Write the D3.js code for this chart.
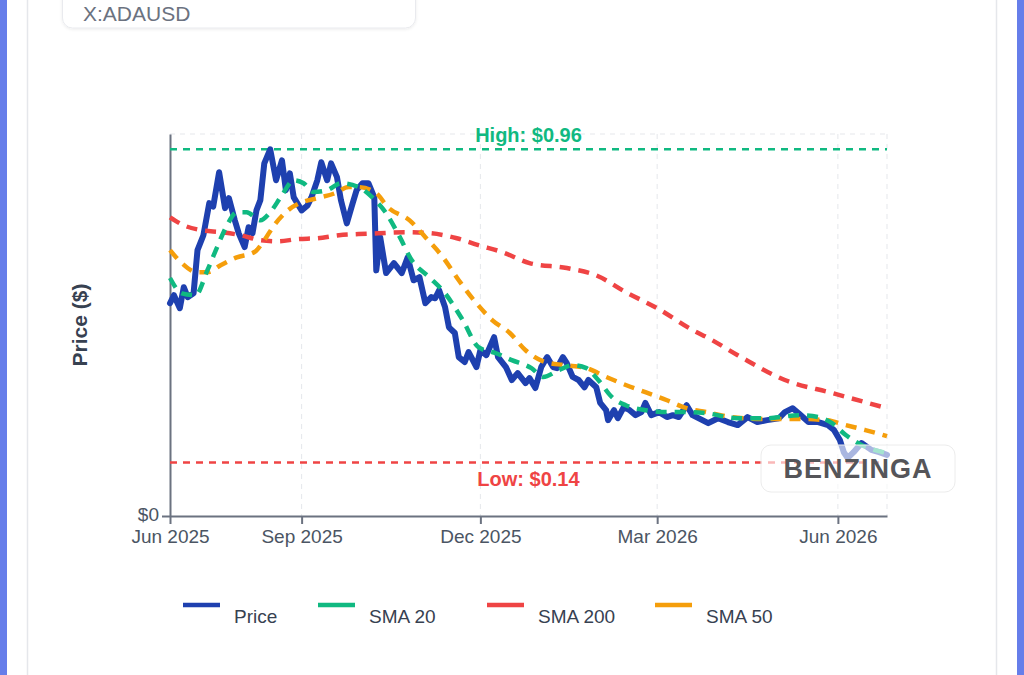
<!DOCTYPE html>
<html>
<head>
<meta charset="utf-8">
<script src="https://cdn.jsdelivr.net/npm/d3@7"></script>
<style>
  body { margin: 0; background: #ffffff; }
  svg { display: block; font-family: "Liberation Sans", Arial, Helvetica, sans-serif; }
</style>
</head>
<body>
<svg id="chart" width="1024" height="675"></svg>
<script>
// ---- data ----
var symbol = "X:ADAUSD";

var priceData = [
  ["2025-06-26",0.557],["2025-06-28",0.578],["2025-07-01",0.544],["2025-07-03",0.599],["2025-07-05",0.573],
  ["2025-07-08",0.583],["2025-07-10",0.696],["2025-07-13",0.735],["2025-07-16",0.819],["2025-07-18",0.810],
  ["2025-07-21",0.900],["2025-07-24",0.806],["2025-07-26",0.832],["2025-07-29",0.774],["2025-07-31",0.740],
  ["2025-08-03",0.704],["2025-08-05",0.756],["2025-08-07",0.740],["2025-08-09",0.800],["2025-08-11",0.827],
  ["2025-08-13",0.923],["2025-08-16",0.960],["2025-08-19",0.879],["2025-08-22",0.931],["2025-08-24",0.853],
  ["2025-08-26",0.897],["2025-08-28",0.834],["2025-09-01",0.800],["2025-09-04",0.813],["2025-09-06",0.834],
  ["2025-09-09",0.879],["2025-09-11",0.926],["2025-09-14",0.879],["2025-09-16",0.923],["2025-09-19",0.887],
  ["2025-09-21",0.827],["2025-09-24",0.766],["2025-09-27",0.819],["2025-09-29",0.853],["2025-10-02",0.871],
  ["2025-10-05",0.871],["2025-10-08",0.834],["2025-10-09",0.643],["2025-10-11",0.730],["2025-10-14",0.636],
  ["2025-10-18",0.662],["2025-10-22",0.636],["2025-10-25",0.677],["2025-10-28",0.617],["2025-10-31",0.625],
  ["2025-11-03",0.557],["2025-11-06",0.573],["2025-11-08",0.570],["2025-11-10",0.591],["2025-11-13",0.547],
  ["2025-11-15",0.494],["2025-11-18",0.479],["2025-11-20",0.416],["2025-11-23",0.403],["2025-11-25",0.429],
  ["2025-11-29",0.390],["2025-12-01",0.434],["2025-12-04",0.421],["2025-12-08",0.468],["2025-12-10",0.416],
  ["2025-12-14",0.390],["2025-12-17",0.356],["2025-12-20",0.374],["2025-12-24",0.348],["2025-12-26",0.361],
  ["2025-12-29",0.335],["2026-01-01",0.390],["2026-01-04",0.416],["2026-01-07",0.390],["2026-01-09",0.387],
  ["2026-01-12",0.416],["2026-01-14",0.400],["2026-01-17",0.364],["2026-01-20",0.356],["2026-01-23",0.337],
  ["2026-01-25",0.356],["2026-01-29",0.337],["2026-01-31",0.296],["2026-02-03",0.277],["2026-02-04",0.251],
  ["2026-02-07",0.277],["2026-02-09",0.256],["2026-02-12",0.285],["2026-02-15",0.277],["2026-02-18",0.264],
  ["2026-02-21",0.272],["2026-02-23",0.296],["2026-02-26",0.264],["2026-03-02",0.272],["2026-03-06",0.259],
  ["2026-03-09",0.264],["2026-03-12",0.259],["2026-03-16",0.290],["2026-03-19",0.264],["2026-03-22",0.256],
  ["2026-03-27",0.243],["2026-04-01",0.256],["2026-04-06",0.246],["2026-04-11",0.238],["2026-04-16",0.259],
  ["2026-04-21",0.246],["2026-04-26",0.251],["2026-05-02",0.256],["2026-05-05",0.272],["2026-05-09",0.282],
  ["2026-05-12",0.269],["2026-05-17",0.246],["2026-05-22",0.246],["2026-05-27",0.238],["2026-05-30",0.225],
  ["2026-06-02",0.199],["2026-06-04",0.167],["2026-06-06",0.152],["2026-06-09",0.167],["2026-06-13",0.191],
  ["2026-06-18",0.173],["2026-06-22",0.167],["2026-06-26",0.160]
];

var sma20Data = [
  ["2025-06-26",0.623],["2025-07-02",0.583],["2025-07-09",0.578],["2025-07-15",0.643],["2025-07-20",0.704],
  ["2025-07-25",0.761],["2025-07-30",0.795],["2025-08-04",0.795],["2025-08-11",0.774],["2025-08-16",0.795],
  ["2025-08-22",0.840],["2025-08-28",0.879],["2025-09-02",0.871],["2025-09-07",0.848],["2025-09-14",0.853],
  ["2025-09-21",0.871],["2025-09-30",0.861],["2025-10-07",0.834],["2025-10-14",0.793],["2025-10-21",0.730],
  ["2025-10-27",0.670],["2025-11-05",0.625],["2025-11-13",0.583],["2025-11-22",0.513],["2025-11-30",0.442],
  ["2025-12-09",0.426],["2025-12-17",0.408],["2025-12-27",0.387],["2026-01-02",0.364],["2026-01-10",0.382],
  ["2026-01-17",0.395],["2026-01-24",0.387],["2026-01-30",0.356],["2026-02-06",0.311],["2026-02-13",0.290],
  ["2026-02-23",0.277],["2026-03-06",0.272],["2026-03-16",0.272],["2026-03-26",0.269],["2026-04-11",0.256],
  ["2026-04-26",0.256],["2026-05-12",0.264],["2026-05-22",0.259],["2026-05-29",0.243],["2026-06-05",0.212],
  ["2026-06-13",0.186],["2026-06-24",0.167],["2026-06-26",0.165]
];

var sma200Data = [
  ["2025-06-26",0.782],["2025-07-03",0.761],["2025-07-12",0.748],["2025-07-22",0.743],["2025-08-01",0.735],
  ["2025-08-11",0.722],["2025-08-20",0.719],["2025-08-30",0.725],["2025-09-09",0.727],["2025-09-20",0.735],
  ["2025-09-30",0.738],["2025-10-10",0.740],["2025-10-24",0.743],["2025-11-06",0.740],["2025-11-19",0.727],
  ["2025-11-30",0.709],["2025-12-12",0.691],["2025-12-26",0.662],["2026-01-14",0.649],["2026-01-29",0.630],
  ["2026-02-13",0.586],["2026-03-01",0.544],["2026-03-19",0.487],["2026-03-27",0.466],["2026-04-11",0.421],
  ["2026-05-05",0.356],["2026-05-29",0.322],["2026-06-26",0.282]
];

var sma50Data = [
  ["2025-06-26",0.696],["2025-07-02",0.662],["2025-07-10",0.638],["2025-07-15",0.638],["2025-07-22",0.657],
  ["2025-07-30",0.677],["2025-08-08",0.691],["2025-08-13",0.722],["2025-08-18",0.761],["2025-08-25",0.800],
  ["2025-09-01",0.821],["2025-09-09",0.832],["2025-09-18",0.845],["2025-09-25",0.861],["2025-09-30",0.861],
  ["2025-10-09",0.845],["2025-10-15",0.808],["2025-10-26",0.774],["2025-11-03",0.730],["2025-11-12",0.677],
  ["2025-11-20",0.617],["2025-11-29",0.557],["2025-12-07",0.513],["2025-12-16",0.479],["2025-12-24",0.434],
  ["2026-01-03",0.403],["2026-01-13",0.395],["2026-01-24",0.387],["2026-02-03",0.364],["2026-02-13",0.343],
  ["2026-02-23",0.324],["2026-03-06",0.303],["2026-03-16",0.282],["2026-03-26",0.272],["2026-04-08",0.259],
  ["2026-04-25",0.254],["2026-05-12",0.254],["2026-05-26",0.251],["2026-06-05",0.238],["2026-06-15",0.225],
  ["2026-06-26",0.209]
];

var highValue = 0.96;
var lowValue = 0.14;

var xDomain = ["2025-06-26", "2026-06-26"];
var tickDates = ["2025-06-26", "2025-09-01", "2025-12-01", "2026-03-01", "2026-06-01"];
var tickLabels = ["Jun 2025", "Sep 2025", "Dec 2025", "Mar 2026", "Jun 2026"];

var legendNames = ["Price", "SMA 20", "SMA 200", "SMA 50"];

// ---- styles / layout ----
var colors = { "Price": "#1e40af", "SMA 20": "#10b981", "SMA 200": "#ef4444", "SMA 50": "#f59e0b" };
var legendX = [183, 318, 487, 655];
var margin = { left: 170, right: 887, top: 134, bottom: 516 };

var parse = d3.timeParse("%Y-%m-%d");
var svg = d3.select("#chart");

// page frame
svg.append("rect").attr("x", 0).attr("y", 0).attr("width", 7).attr("height", 675).attr("fill", "#667eea");
svg.append("rect").attr("x", 1017).attr("y", 0).attr("width", 7).attr("height", 675).attr("fill", "#667eea");
svg.append("rect").attr("x", 27.5).attr("y", -20).attr("width", 969).attr("height", 720)
    .attr("rx", 10).attr("fill", "#ffffff").attr("stroke", "#e5e7eb").attr("stroke-width", 1.5);

// header box
var defs = svg.append("defs");
var sh = defs.append("filter").attr("id", "soft").attr("x", "-10%").attr("y", "-50%").attr("width", "120%").attr("height", "200%");
sh.append("feDropShadow").attr("dx", 0).attr("dy", 1).attr("stdDeviation", 1.5).attr("flood-color", "#000").attr("flood-opacity", 0.08);

svg.append("rect").attr("x", 62.5).attr("y", -20).attr("width", 353).attr("height", 48)
    .attr("rx", 10).attr("fill", "#ffffff").attr("stroke", "#e9eaee").attr("filter", "url(#soft)");
svg.append("text").attr("x", 83).attr("y", 21).attr("font-size", 21).attr("fill", "#6b7280").text(symbol);

// scales
var x = d3.scaleTime().domain(xDomain.map(parse)).range([margin.left, margin.right]);
var y = d3.scaleLinear().domain([0, 1]).range([margin.bottom, margin.top]);

// grid
var grid = svg.append("g").attr("stroke", "#e5e7eb").attr("stroke-width", 1).attr("stroke-dasharray", "5,5");
tickDates.slice(1).map(parse).concat([x.domain()[1]]).forEach(function(d) {
  grid.append("line").attr("x1", x(d)).attr("x2", x(d)).attr("y1", margin.top).attr("y2", margin.bottom);
});
grid.append("line").attr("x1", margin.left).attr("x2", margin.right).attr("y1", y(1)).attr("y2", y(1));

// axes
var xAxis = d3.axisBottom(x)
    .tickValues(tickDates.map(parse))
    .tickFormat(function(d, i) { return tickLabels[i]; })
    .tickSize(8).tickSizeOuter(0).tickPadding(6);
var gx = svg.append("g").attr("transform", "translate(0," + margin.bottom + ")").call(xAxis);
gx.select(".domain").attr("stroke", "#6b7280").attr("stroke-width", 2);
gx.selectAll(".tick line").attr("stroke", "#6b7280").attr("stroke-width", 2);
gx.selectAll(".tick text").attr("fill", "#4b5563").attr("font-size", 19)
    .attr("font-family", "Liberation Sans, Arial, sans-serif");

var yAxis = d3.axisLeft(y).tickValues([0]).tickFormat(d3.format("$")).tickSize(8).tickSizeOuter(0).tickPadding(3);
var gy = svg.append("g").attr("transform", "translate(" + margin.left + ",0)").call(yAxis);
gy.select(".domain").attr("stroke", "#6b7280").attr("stroke-width", 2);
gy.selectAll(".tick line").attr("stroke", "#6b7280").attr("stroke-width", 2);
gy.selectAll(".tick text").attr("fill", "#4b5563").attr("font-size", 19).attr("dy", "0.25em")
    .attr("font-family", "Liberation Sans, Arial, sans-serif");

svg.append("text")
    .attr("transform", "translate(87,325) rotate(-90)")
    .attr("text-anchor", "middle").attr("font-size", 21).attr("font-weight", "bold")
    .attr("fill", "#374151").text("Price ($)");

// high / low reference lines
svg.append("line").attr("x1", margin.left).attr("x2", margin.right)
    .attr("y1", y(highValue)).attr("y2", y(highValue))
    .attr("stroke", "#10b981").attr("stroke-width", 2.5).attr("stroke-dasharray", "7,6");
svg.append("text").attr("x", (margin.left + margin.right) / 2).attr("y", y(highValue) - 7)
    .attr("text-anchor", "middle").attr("font-size", 20).attr("font-weight", "bold")
    .attr("fill", "#10b981").text("High: $" + highValue.toFixed(2));

svg.append("line").attr("x1", margin.left).attr("x2", margin.right)
    .attr("y1", y(lowValue)).attr("y2", y(lowValue))
    .attr("stroke", "#ef4444").attr("stroke-width", 2.5).attr("stroke-dasharray", "7,6");
svg.append("text").attr("x", (margin.left + margin.right) / 2).attr("y", y(lowValue) + 23)
    .attr("text-anchor", "middle").attr("font-size", 20).attr("font-weight", "bold")
    .attr("fill", "#ef4444").text("Low: $" + lowValue.toFixed(2));

// series
var lineLinear = d3.line().x(function(d) { return x(parse(d[0])); }).y(function(d) { return y(d[1]); });
var lineSmooth = d3.line().curve(d3.curveMonotoneX)
    .x(function(d) { return x(parse(d[0])); }).y(function(d) { return y(d[1]); });

var smaSeries = [["SMA 200", sma200Data], ["SMA 50", sma50Data], ["SMA 20", sma20Data]];

svg.append("path").datum(priceData).attr("d", lineLinear)
    .attr("fill", "none").attr("stroke", colors["Price"]).attr("stroke-width", 6)
    .attr("stroke-linejoin", "round").attr("stroke-linecap", "round");

smaSeries.forEach(function(s) {
  svg.append("path").datum(s[1]).attr("d", lineSmooth)
      .attr("fill", "none").attr("stroke", colors[s[0]]).attr("stroke-width", 4.5)
      .attr("stroke-dasharray", "11,8").attr("stroke-linecap", "butt");
});

// watermark
svg.append("rect").attr("x", 761).attr("y", 445).attr("width", 194).attr("height", 47).attr("rx", 10)
    .attr("fill", "#ffffff").attr("fill-opacity", 0.62).attr("stroke", "#ececec").attr("stroke-width", 1);
svg.append("text").attr("x", 858).attr("y", 478).attr("text-anchor", "middle")
    .attr("font-size", 27).attr("font-weight", "bold").attr("letter-spacing", 1)
    .attr("fill", "#555559").text("BENZINGA");

// legend
var legend = svg.append("g");
legendNames.forEach(function(name, i) {
  var g = legend.append("g").attr("transform", "translate(" + legendX[i] + ",0)");
  g.append("line").attr("x1", 0).attr("x2", 37).attr("y1", 605).attr("y2", 605)
      .attr("stroke", colors[name]).attr("stroke-width", 4.5);
  g.append("text").attr("x", 51).attr("y", 623).attr("font-size", 19).attr("fill", "#374151").text(name);
});
</script>
</body>
</html>
